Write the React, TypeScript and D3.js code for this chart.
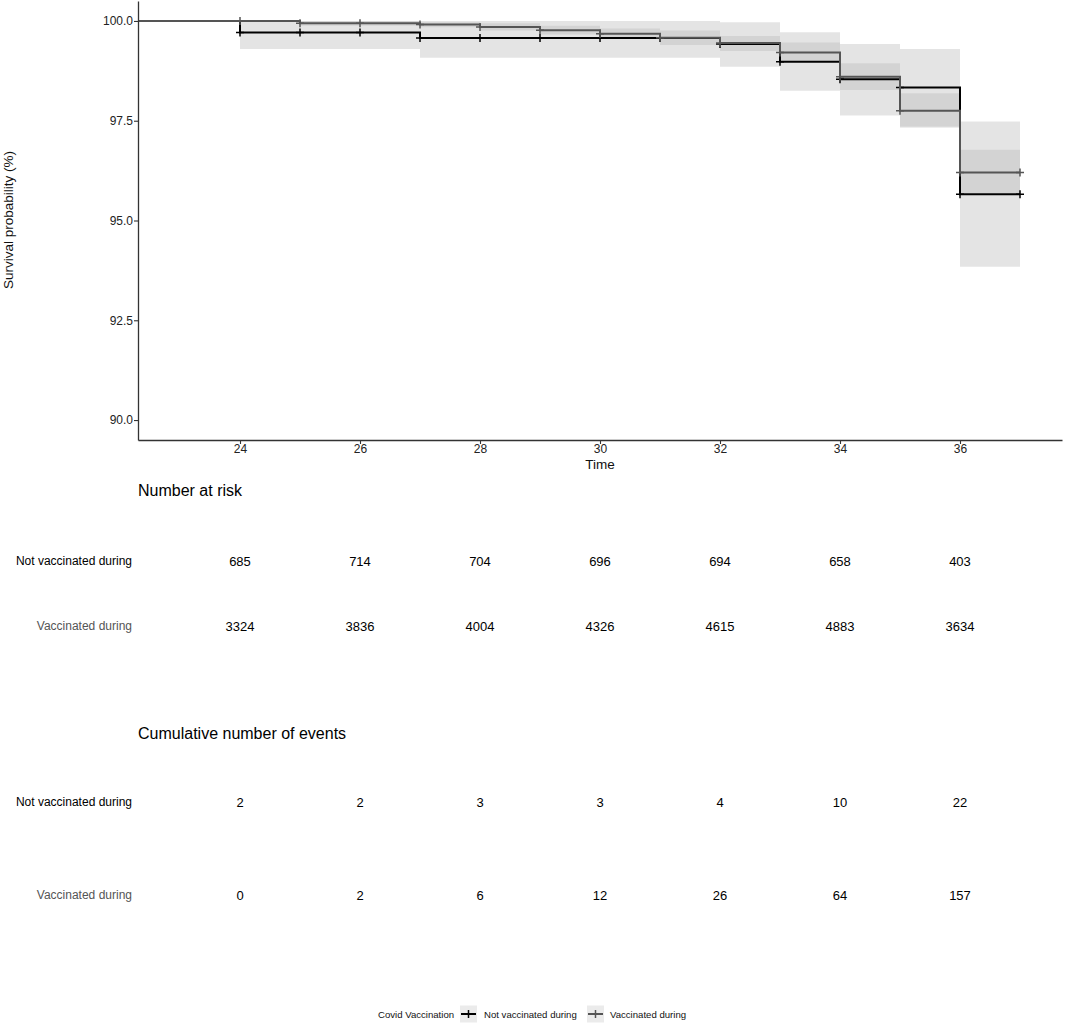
import { useEffect, useRef } from "react";
import * as d3 from "d3";

// step start times (curve starts at 0, last one closes the curve)
const times = [0, 24, 25, 26, 27, 28, 29, 30, 31, 32, 33, 34, 35, 36, 37];

// survival (%) – not vaccinated during
const survNotVacc = [100, 99.71, 99.71, 99.71, 99.57, 99.57, 99.57, 99.57, 99.57, 99.42, 98.98, 98.54, 98.33, 95.66, 95.66];
const lowerNotVacc = [100, 99.3, 99.3, 99.3, 99.08, 99.08, 99.08, 99.08, 99.08, 98.85, 98.25, 97.63, 97.35, 93.84, 93.84];
const upperNotVacc = [100, 100, 100, 100, 100, 100, 100, 100, 100, 99.97, 99.72, 99.42, 99.3, 97.48, 97.48];

// survival (%) – vaccinated during
const survVacc = [100, 100, 99.94, 99.94, 99.91, 99.85, 99.77, 99.68, 99.58, 99.45, 99.21, 98.6, 97.75, 96.2, 96.2];
const lowerVacc = [100, 100, 99.88, 99.88, 99.84, 99.76, 99.66, 99.55, 99.4, 99.25, 98.98, 98.27, 97.32, 95.68, 95.68];
const upperVacc = [100, 100, 100, 100, 99.97, 99.94, 99.88, 99.81, 99.76, 99.62, 99.46, 98.94, 98.19, 96.77, 96.77];

// censor marks
const censorTimes = [24, 25, 26, 27, 28, 29, 30, 31, 32, 33, 34, 35, 36, 37];

const yTicks = [90, 92.5, 95, 97.5, 100];
const xTicks = [24, 26, 28, 30, 32, 34, 36];

const groups = ["Not vaccinated during", "Vaccinated during"];
const riskNotVacc = [685, 714, 704, 696, 694, 658, 403];
const riskVacc = [3324, 3836, 4004, 4326, 4615, 4883, 3634];
const eventsNotVacc = [2, 2, 3, 3, 4, 10, 22];
const eventsVacc = [0, 2, 6, 12, 26, 64, 157];

const FONT = "'Liberation Sans', Arial, Helvetica, sans-serif";
const BLACK = "#000000";
const GREY = "#555555";
const AXIS = "#333333";

export default function App() {
    const svgRef = useRef<SVGSVGElement | null>(null);

    useEffect(() => {
        if (!svgRef.current) return;
        const svg = d3.select(svgRef.current);
        svg.selectAll("*").remove();

        const x = d3.scaleLinear().domain([22.3, 37.7]).range([138, 1062]);
        const y = d3.scaleLinear().domain([89.5, 100.5]).range([440, 1]);

        // clip to the panel, like coord_cartesian
        svg.append("defs").append("clipPath").attr("id", "panel")
            .append("rect")
            .attr("x", x.range()[0]).attr("y", y.range()[1])
            .attr("width", x.range()[1] - x.range()[0])
            .attr("height", y.range()[0] - y.range()[1]);

        const series = [
            { name: groups[0], color: BLACK, surv: survNotVacc, lo: lowerNotVacc, hi: upperNotVacc, ciOpacity: 0.105 },
            { name: groups[1], color: GREY, surv: survVacc, lo: lowerVacc, hi: upperVacc, ciOpacity: 0.07 },
        ];

        const plot = svg.append("g").attr("clip-path", "url(#panel)");

        // confidence bands
        series.forEach((s) => {
            const area = d3
                .area<number>()
                .x((_, i) => x(times[i]))
                .y0((_, i) => y(s.lo[i]))
                .y1((_, i) => y(s.hi[i]))
                .curve(d3.curveStepAfter);
            plot.append("path")
                .attr("d", area(times))
                .attr("fill", "#000")
                .attr("fill-opacity", s.ciOpacity);
        });

        // survival curves
        series.forEach((s) => {
            const line = d3
                .line<number>()
                .x((_, i) => x(times[i]))
                .y((_, i) => y(s.surv[i]))
                .curve(d3.curveStepAfter);
            plot.append("path")
                .attr("d", line(times))
                .attr("fill", "none")
                .attr("stroke", s.color)
                .attr("stroke-width", 2);

            // censor "+" marks
            censorTimes.forEach((t) => {
                const idx = times.indexOf(t);
                const cx = x(t);
                const cy = y(s.surv[idx]);
                plot.append("path")
                    .attr("d", `M${cx - 4},${cy}H${cx + 4}M${cx},${cy - 4}V${cy + 4}`)
                    .attr("stroke", s.color)
                    .attr("stroke-width", 1.5);
            });
        });

        // axes
        const yAxis = svg.append("g").attr("transform", "translate(138,0)")
            .call(d3.axisLeft(y).tickValues(yTicks).tickFormat(d3.format(".1f")).tickSize(4).tickSizeOuter(0));
        yAxis.select(".domain").attr("stroke", AXIS).attr("stroke-width", 1.3);
        yAxis.selectAll(".tick line").attr("stroke", AXIS).attr("stroke-width", 1.1);
        yAxis.selectAll("text").attr("font-family", FONT).attr("font-size", 12).attr("fill", "#222").attr("x", -5);

        const xAxis = svg.append("g").attr("transform", "translate(0,440)")
            .call(d3.axisBottom(x).tickValues(xTicks).tickFormat(d3.format("d")).tickSize(4).tickSizeOuter(0));
        xAxis.select(".domain").attr("stroke", AXIS).attr("stroke-width", 1.3);
        xAxis.selectAll(".tick line").attr("stroke", AXIS).attr("stroke-width", 1.1);
        xAxis.selectAll("text").attr("font-family", FONT).attr("font-size", 12).attr("fill", "#222").attr("y", 4);

        svg.append("text")
            .attr("x", 600).attr("y", 469)
            .attr("text-anchor", "middle")
            .attr("font-family", FONT).attr("font-size", 13.5).attr("fill", "#111")
            .text("Time");

        svg.append("text")
            .attr("transform", "translate(13,220) rotate(-90)")
            .attr("text-anchor", "middle")
            .attr("font-family", FONT).attr("font-size", 13.5).attr("fill", "#111")
            .text("Survival probability (%)");

        // tables
        const tables = [
            { title: "Number at risk", titleY: 496, rowsY: [566, 631], rows: [riskNotVacc, riskVacc] },
            { title: "Cumulative number of events", titleY: 739, rowsY: [807, 900], rows: [eventsNotVacc, eventsVacc] },
        ];
        tables.forEach((tb) => {
            svg.append("text")
                .attr("x", 138).attr("y", tb.titleY)
                .attr("font-family", FONT).attr("font-size", 16).attr("fill", "#000")
                .text(tb.title);
            tb.rows.forEach((vals, r) => {
                const yy = tb.rowsY[r];
                svg.append("text")
                    .attr("x", 132).attr("y", yy - 1)
                    .attr("text-anchor", "end")
                    .attr("font-family", FONT).attr("font-size", 12)
                    .attr("fill", r === 0 ? BLACK : GREY)
                    .text(groups[r]);
                svg.selectAll(null)
                    .data(vals)
                    .enter()
                    .append("text")
                    .attr("x", (_, i) => x(xTicks[i]))
                    .attr("y", yy)
                    .attr("text-anchor", "middle")
                    .attr("font-family", FONT).attr("font-size", 13).attr("fill", "#000")
                    .text((d) => d);
            });
        });

        // legend
        const lg = svg.append("g").attr("transform", "translate(0,1014)");
        lg.append("text")
            .attr("x", 378).attr("y", 3.5)
            .attr("font-family", FONT).attr("font-size", 9.6).attr("fill", "#111")
            .text("Covid Vaccination");
        const keys = [
            { x: 460, color: BLACK, label: groups[0], tx: 484 },
            { x: 587, color: GREY, label: groups[1], tx: 610 },
        ];
        keys.forEach((k) => {
            lg.append("rect").attr("x", k.x).attr("y", -8.5).attr("width", 17).attr("height", 17).attr("fill", "#ebebeb");
            lg.append("line").attr("x1", k.x + 1).attr("x2", k.x + 16).attr("y1", 0).attr("y2", 0)
                .attr("stroke", k.color).attr("stroke-width", 2);
            lg.append("path")
                .attr("d", `M${k.x + 8.5},-4V4`)
                .attr("stroke", k.color).attr("stroke-width", 1.5);
            lg.append("text")
                .attr("x", k.tx).attr("y", 3.5)
                .attr("font-family", FONT).attr("font-size", 9.6).attr("fill", "#111")
                .text(k.label);
        });
    }, []);

    return (
        <svg
            ref={svgRef}
            width={1065}
            height={1025}
            style={{ position: "absolute", left: 0, top: 0, background: "#fff" }}
        />
    );
}
